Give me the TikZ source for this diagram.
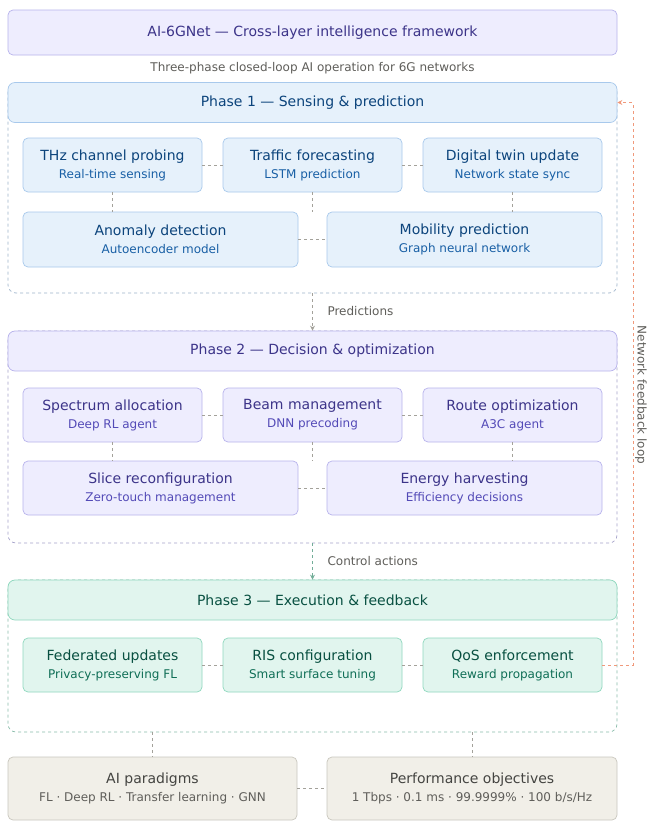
\documentclass[tikz,border=0pt]{standalone}
\usepackage{fontspec}
\setmainfont{DejaVu Sans}
\usetikzlibrary{arrows.meta, positioning, calc}
\definecolor{bluefill}{HTML}{E6F1FB}
\definecolor{blueline}{HTML}{A8C9EC}
\definecolor{bluetext}{HTML}{0C447C}
\definecolor{bluesub}{HTML}{185FA5}
\definecolor{purplefill}{HTML}{EEEDFE}
\definecolor{purpleline}{HTML}{B8B3EC}
\definecolor{purpletext}{HTML}{3C3489}
\definecolor{purplesub}{HTML}{534AB7}
\definecolor{tealfill}{HTML}{E1F5EE}
\definecolor{tealline}{HTML}{8FD8BE}
\definecolor{tealtext}{HTML}{085041}
\definecolor{tealsub}{HTML}{0F6E56}
\definecolor{grayfill}{HTML}{F1EFE8}
\definecolor{grayline}{HTML}{C9C7BE}
\definecolor{graytext}{HTML}{444441}
\definecolor{graysub}{HTML}{5F5E5A}
\definecolor{coralline}{HTML}{F0997B}
\definecolor{linkgray}{HTML}{A3A19A}

\newcommand{\subtxt}[2]{{\fontsize{12}{14}\selectfont\color{#1}#2}}

\begin{document}
\begin{tikzpicture}[
  x=1pt, y=-1pt,
  card/.style={rectangle, rounded corners=5pt, draw=#1line, fill=#1fill, text=#1text,
               font=\fontsize{14}{17}\selectfont, align=center, inner sep=2pt,
               minimum height=54pt, line width=0.7pt},
  phaseband/.style={rectangle, rounded corners=7pt, draw=#1line, fill=#1fill, text=#1text,
                    font=\fontsize{14}{17}\selectfont, minimum width=609pt,
                    minimum height=40pt, line width=0.7pt},
  phaseframe/.style={rectangle, rounded corners=8pt, draw=#1line!70!gray, dashed,
                     minimum width=609pt, line width=0.7pt},
  link/.style={draw=linkgray, dashed, line width=0.7pt},
  flow/.style={dashed, line width=0.7pt, -{Stealth[length=5pt, width=5pt]}},
  caption/.style={font=\fontsize{12}{14}\selectfont, text=graysub},
]
\fill[white] (0,0) rectangle (648,823);
\useasboundingbox (0,0) rectangle (648,823);

% Title
\node[card=purple, minimum width=609pt, minimum height=45pt] (title) at (312.5, 32.5)
  {AI-6GNet — Cross-layer intelligence framework};
\node[caption] (subtitle) at (312.5, 68) {Three-phase closed-loop AI operation for 6G networks};

% Phase 1
\node[phaseframe=blue, minimum height=210pt] (ph1) at (312.5, 188) {};
\node[phaseband=blue] (ph1band) at (312.5, 102.5) {Phase 1 — Sensing \& prediction};
\node[card=blue, minimum width=179pt] (thz) at (112.5, 165)
  {THz channel probing\\[1pt]\subtxt{bluesub}{Real-time sensing}};
\node[card=blue, minimum width=179pt] (traffic) at (312.5, 165)
  {Traffic forecasting\\[1pt]\subtxt{bluesub}{LSTM prediction}};
\node[card=blue, minimum width=179pt] (twin) at (512.5, 165)
  {Digital twin update\\[1pt]\subtxt{bluesub}{Network state sync}};
\node[card=blue, minimum width=275pt, minimum height=55pt] (anomaly) at (160.5, 239.5)
  {Anomaly detection\\[1pt]\subtxt{bluesub}{Autoencoder model}};
\node[card=blue, minimum width=275pt, minimum height=55pt] (mobility) at (464.5, 239.5)
  {Mobility prediction\\[1pt]\subtxt{bluesub}{Graph neural network}};

\draw[link] (thz) -- (traffic);
\draw[link] (traffic) -- (twin);
\draw[link] (anomaly) -- (mobility);
\draw[link] (thz.south) -- (thz.south |- anomaly.north);
\draw[link] (traffic.south) -- (traffic.south |- anomaly.north);
\draw[link] (twin.south) -- (twin.south |- mobility.north);

% Phase 2
\node[phaseframe=purple, minimum height=212pt] (ph2) at (312.5, 437) {};
\node[phaseband=purple] (ph2band) at (312.5, 351) {Phase 2 — Decision \& optimization};
\node[card=purple, minimum width=179pt] (spectrum) at (112.5, 415)
  {Spectrum allocation\\[1pt]\subtxt{purplesub}{Deep RL agent}};
\node[card=purple, minimum width=179pt] (beam) at (312.5, 415)
  {Beam management\\[1pt]\subtxt{purplesub}{DNN precoding}};
\node[card=purple, minimum width=179pt] (route) at (512.5, 415)
  {Route optimization\\[1pt]\subtxt{purplesub}{A3C agent}};
\node[card=purple, minimum width=275pt] (slice) at (160.5, 488)
  {Slice reconfiguration\\[1pt]\subtxt{purplesub}{Zero-touch management}};
\node[card=purple, minimum width=275pt] (energy) at (464.5, 488)
  {Energy harvesting\\[1pt]\subtxt{purplesub}{Efficiency decisions}};

\draw[link] (spectrum) -- (beam);
\draw[link] (beam) -- (route);
\draw[link] (slice) -- (energy);
\draw[link] (spectrum.south) -- (spectrum.south |- slice.north);
\draw[link] (beam.south) -- (beam.south |- slice.north);
\draw[link] (route.south) -- (route.south |- energy.north);

% Phase 3
\node[phaseframe=teal, minimum height=152pt] (ph3) at (312.5, 656) {};
\node[phaseband=teal] (ph3band) at (312.5, 600) {Phase 3 — Execution \& feedback};
\node[card=teal, minimum width=179pt] (fed) at (112.5, 665)
  {Federated updates\\[1pt]\subtxt{tealsub}{Privacy-preserving FL}};
\node[card=teal, minimum width=179pt] (ris) at (312.5, 665)
  {RIS configuration\\[1pt]\subtxt{tealsub}{Smart surface tuning}};
\node[card=teal, minimum width=179pt] (qos) at (512.5, 665)
  {QoS enforcement\\[1pt]\subtxt{tealsub}{Reward propagation}};

\draw[link] (fed) -- (ris);
\draw[link] (ris) -- (qos);

% Phase hand-over
\draw[flow, draw=linkgray] (ph1.south) -- (ph2band.north);
\node[caption, anchor=west] (predlbl) at (324, 311) {Predictions};
\draw[flow, draw=tealline!80!black] (ph2.south) -- (ph3band.north);
\node[caption, anchor=west] (ctrllbl) at (324, 561) {Control actions};

% Feedback loop
\coordinate (fbx) at (633, 0);
\draw[flow, draw=coralline] (qos.east) -- (qos.east -| fbx) |- (ph1band.east);
\node[caption, rotate=-90] (fblbl) at (641, 395) {Network feedback loop};

% Paradigms and objectives
\node[card=gray, minimum width=289pt, minimum height=63pt] (paradigms) at (152.5, 788.5)
  {AI paradigms\\[1pt]\subtxt{graysub}{FL · Deep RL · Transfer learning · GNN}};
\node[card=gray, minimum width=290pt, minimum height=63pt] (objectives) at (472, 788.5)
  {Performance objectives\\[1pt]\subtxt{graysub}{1 Tbps · 0.1 ms · 99.9999\% · 100 b/s/Hz}};

\draw[link] (paradigms.north |- ph3.south) -- (paradigms.north);
\draw[link] (objectives.north |- ph3.south) -- (objectives.north);
\draw[link] (paradigms) -- (objectives);

\end{tikzpicture}
\end{document}
